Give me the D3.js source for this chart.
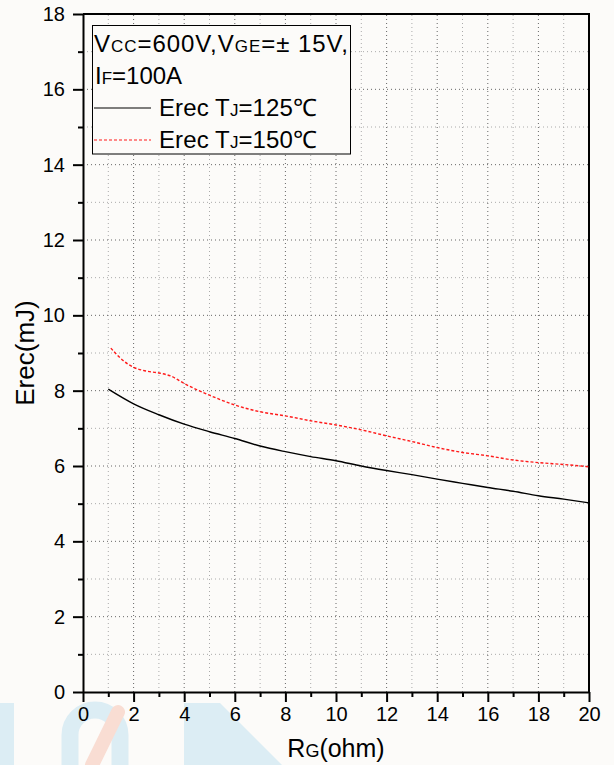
<!DOCTYPE html>
<html lang="en">
<head>
    <meta charset="UTF-8">
    <title>Erec vs RG</title>
    <script src="https://d3js.org/d3.v7.min.js"></script>
    <style>
        body { margin: 0; background: #fcfbf9; }
        svg { display: block; font-family: "Liberation Sans", Arial, sans-serif; }
    </style>
</head>
<body>
    <svg width="614" height="765"></svg>

    <script>
        // curve values
        const rg125 = [1, 2, 3, 4, 5, 6, 7, 8, 9, 10, 11, 12, 13, 14, 15, 16, 17, 18, 19, 20];
        const erec125 = [8.04, 7.65, 7.36, 7.11, 6.91, 6.73, 6.53, 6.38, 6.25, 6.14, 6.0, 5.88, 5.77, 5.65, 5.54, 5.43, 5.33, 5.21, 5.12, 5.02];

        const rg150 = [1.1, 1.5, 2, 2.5, 3, 3.5, 4, 5, 6, 7, 8, 9, 10, 11, 12, 13, 14, 15, 16, 17, 18, 19, 20];
        const erec150 = [9.13, 8.85, 8.62, 8.52, 8.47, 8.38, 8.19, 7.88, 7.62, 7.44, 7.33, 7.2, 7.09, 6.96, 6.8, 6.65, 6.49, 6.36, 6.27, 6.16, 6.09, 6.04, 5.98];

        const xTicks = [0, 2, 4, 6, 8, 10, 12, 14, 16, 18, 20];
        const yTicks = [0, 2, 4, 6, 8, 10, 12, 14, 16, 18];

        const width = 614;
        const height = 765;
        const margin = {top: 14, right: 25, bottom: 73, left: 83};

        const svg = d3.select("svg");

        // faint watermark at the bottom
        const wm = svg.append("g");
        wm.append("rect").attr("x", 0).attr("y", 703).attr("width", 14).attr("height", 62).attr("fill", "#dcedf4");
        wm.append("path")
            .attr("d", "M70,765 L70,735 A25,25 0 0 1 120,735 L120,765")
            .attr("fill", "none").attr("stroke", "#dcedf4").attr("stroke-width", 17);
        wm.append("path")
            .attr("d", "M118,712 L92,765")
            .attr("stroke", "#f9ddd3").attr("stroke-width", 14).attr("stroke-linecap", "round");
        wm.append("path")
            .attr("d", "M184,703 L220,703 L282,765 L184,765 Z")
            .attr("fill", "#dcedf4");

        const x = d3.scaleLinear()
            .domain([0, 20])
            .range([margin.left, width - margin.right]);

        const y = d3.scaleLinear()
            .domain([0, 18])
            .range([height - margin.bottom, margin.top]);

        // dotted grid at every unit
        const grid = svg.append("g");
        grid.selectAll(".gx")
            .data(d3.range(1, 20))
            .enter().append("line")
            .attr("x1", d => x(d)).attr("x2", d => x(d))
            .attr("y1", y(0)).attr("y2", y(18))
            .attr("stroke", d => d % 2 ? "#aaa" : "#666")
            .attr("stroke-width", 1)
            .attr("stroke-dasharray", "1,3");
        grid.selectAll(".gy")
            .data(d3.range(1, 18))
            .enter().append("line")
            .attr("y1", d => y(d)).attr("y2", d => y(d))
            .attr("x1", x(0)).attr("x2", x(20))
            .attr("stroke", d => d % 2 ? "#aaa" : "#666")
            .attr("stroke-width", 1)
            .attr("stroke-dasharray", "1,3");

        // minor ticks
        svg.append("g")
            .attr("transform", `translate(0,${y(0)})`)
            .call(d3.axisBottom(x).tickValues(d3.range(1, 20, 2)).tickSize(5).tickFormat(""))
            .call(g => g.select(".domain").remove())
            .selectAll("line").attr("stroke-width", 2);
        svg.append("g")
            .attr("transform", `translate(${x(0)},0)`)
            .call(d3.axisLeft(y).tickValues(d3.range(1, 18, 2)).tickSize(5).tickFormat(""))
            .call(g => g.select(".domain").remove())
            .selectAll("line").attr("stroke-width", 2);

        // major axes
        const xAxis = svg.append("g")
            .attr("transform", `translate(0,${y(0)})`)
            .call(d3.axisBottom(x).tickValues(xTicks).tickSize(10).tickSizeOuter(0).tickPadding(5));
        xAxis.selectAll("line").attr("stroke-width", 2);
        xAxis.select(".domain").attr("stroke-width", 2);
        xAxis.selectAll("text").attr("font-size", "20px").attr("fill", "#000");

        const yAxis = svg.append("g")
            .attr("transform", `translate(${x(0)},0)`)
            .call(d3.axisLeft(y).tickValues(yTicks).tickSize(10).tickSizeOuter(0).tickPadding(8));
        yAxis.selectAll("line").attr("stroke-width", 2);
        yAxis.select(".domain").attr("stroke-width", 2);
        yAxis.selectAll("text").attr("font-size", "20px").attr("fill", "#000");

        // top and right frame
        svg.append("path")
            .attr("d", `M${x(0)},${y(18)} H${x(20)} V${y(0)}`)
            .attr("fill", "none").attr("stroke", "#000").attr("stroke-width", 2);

        // curves
        const line = d3.line()
            .x(d => x(d[0]))
            .y(d => y(d[1]))
            .curve(d3.curveMonotoneX);

        svg.append("path")
            .datum(d3.zip(rg125, erec125))
            .attr("d", line)
            .attr("fill", "none")
            .attr("stroke", "#000")
            .attr("stroke-width", 1.4);

        svg.append("path")
            .datum(d3.zip(rg150, erec150))
            .attr("d", line)
            .attr("fill", "none")
            .attr("stroke", "#ff1a1a")
            .attr("stroke-width", 1.4)
            .attr("stroke-dasharray", "3,2");

        // legend
        const lg = svg.append("g");
        lg.append("rect")
            .attr("x", 92.5).attr("y", 25.5)
            .attr("width", 258).attr("height", 128.5)
            .attr("fill", "#fcfbf9").attr("stroke", "#000").attr("stroke-width", 1);

        const t1 = lg.append("text").attr("x", 94).attr("y", 52).attr("font-size", "24px")
            .attr("textLength", 254).attr("lengthAdjust", "spacing");
        t1.append("tspan").text("V");
        t1.append("tspan").attr("font-size", "17px").text("CC");
        t1.append("tspan").text("=600V,V");
        t1.append("tspan").attr("font-size", "17px").text("GE");
        t1.append("tspan").text("=\u00B1 15V,");

        const t2 = lg.append("text").attr("x", 95).attr("y", 84).attr("font-size", "24px");
        t2.append("tspan").text("I");
        t2.append("tspan").attr("font-size", "17px").text("F");
        t2.append("tspan").text("=100A");

        const items = [
            {label: "125\u2103", color: "#000", dash: null, yy: 108},
            {label: "150\u2103", color: "#ff1a1a", dash: "3,2", yy: 140}
        ];
        items.forEach(it => {
            lg.append("line")
                .attr("x1", 94).attr("x2", 151)
                .attr("y1", it.yy).attr("y2", it.yy)
                .attr("stroke", it.color).attr("stroke-width", 1.2)
                .attr("stroke-dasharray", it.dash);
            const t = lg.append("text").attr("x", 159).attr("y", it.yy + 8).attr("font-size", "24px")
                .attr("textLength", 158).attr("lengthAdjust", "spacing");
            t.append("tspan").text("Erec T");
            t.append("tspan").attr("font-size", "17px").text("J");
            t.append("tspan").text("=" + it.label);
        });

        // axis titles
        const xt = svg.append("text")
            .attr("text-anchor", "middle")
            .attr("x", x(10))
            .attr("y", 757)
            .attr("font-size", "25px");
        xt.append("tspan").text("R");
        xt.append("tspan").attr("font-size", "18px").text("G");
        xt.append("tspan").text("(ohm)");

        svg.append("text")
            .attr("text-anchor", "middle")
            .attr("transform", `translate(34,${(y(0) + y(18)) / 2}) rotate(-90)`)
            .attr("font-size", "26px")
            .text("Erec(mJ)");
    </script>
</body>
</html>
